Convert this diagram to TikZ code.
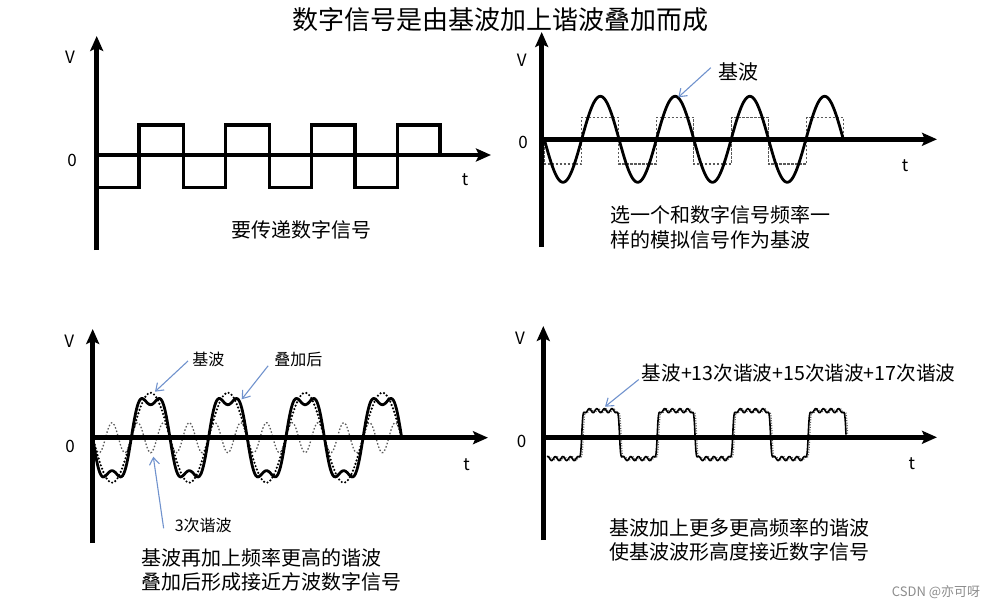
\documentclass[tikz,border=0pt]{standalone}
\usepackage{fontspec}
\setmainfont{Noto Sans CJK SC}
\usetikzlibrary{arrows.meta}
\definecolor{lblue}{RGB}{112,146,205}
\definecolor{wmgray}{RGB}{140,140,140}
\definecolor{dgray}{RGB}{90,90,90}
\begin{document}
\begin{tikzpicture}[x=1pt,y=-1pt,
  axisline/.style={line width=4.5pt,-{Stealth[length=15pt,width=13pt,inset=3pt]}},
  sqw/.style={line width=3.2pt,line join=miter},
  sinew/.style={line width=2.8pt},
  dsq/.style={line width=1.2pt,dgray,dash pattern=on 2.5pt off 1.5pt},
  fund/.style={line width=2.4pt,dash pattern=on 0pt off 3.6pt,line cap=round},
  harm/.style={line width=1.3pt,dgray,dash pattern=on 1.5pt off 2pt},
  sumw/.style={line width=2.8pt},
  rip/.style={line width=1.6pt},
  ripdot/.style={line width=1.2pt,dgray,dash pattern=on 1pt off 1.5pt},
  lbl/.style={inner sep=0pt,font=\fontsize{17}{20}\selectfont},
  captxt/.style={inner sep=0pt,font=\fontsize{20}{24}\selectfont},
  smalltxt/.style={inner sep=0pt,font=\fontsize{16}{19}\selectfont},
  larr/.style={draw=lblue,line width=1.1pt,-{Straight Barb[length=7pt,width=10pt]}}
]
\useasboundingbox (0,0) rectangle (1005,607);

% title
\node[inner sep=0pt,font=\fontsize{26}{30}\selectfont] (title) at (500,20) {数字信号是由基波加上谐波叠加而成};

% ---------------- top-left ----------------
\coordinate (tlB) at (96.7,250);
\coordinate (tlT) at (96.7,36);
\coordinate (tlO) at (96.7,155);
\coordinate (tlR) at (491,155);
\draw[axisline] (tlB) -- (tlT);
\draw[axisline] (tlO) -- (tlR);
\draw[sqw] (98,187.7) -- (139,187.7) -- (139,125) -- (183.3,125) -- (183.3,187.7)
  -- (225.7,187.7) -- (225.7,125) -- (269.3,125) -- (269.3,187.7)
  -- (311.7,187.7) -- (311.7,125) -- (355,125) -- (355,187.7)
  -- (397.7,187.7) -- (397.7,125) -- (440,125) -- (440,155);
\node[lbl] (tlV) at (70,57) {V};
\node[lbl] (tl0) at (72,160) {0};
\node[lbl] (tlt) at (465,180) {t};
\node[captxt] (tlc) at (301.7,230) {要传递数字信号};

% ---------------- top-right ----------------
\coordinate (trB) at (541.7,247);
\coordinate (trT) at (541.7,32);
\coordinate (trO) at (541.7,139.3);
\coordinate (trR) at (937,139.3);
\draw[dsq] (544.3,139.3) -- (544.3,164) -- (581.7,164) -- (581.7,117.3) -- (618.3,117.3)
  -- (618.3,164) -- (656.7,164) -- (656.7,117.3) -- (693.3,117.3) -- (693.3,164)
  -- (731.7,164) -- (731.7,117.3) -- (768.3,117.3) -- (768.3,164) -- (806.7,164)
  -- (806.7,117.3) -- (843.3,117.3) -- (843.3,139.3);
\draw[sinew] plot[domain=544.3:843.3,samples=241,smooth] (\x,{139.3+43*sin(((\x-544.3)/74.75)*360)});
\draw[axisline] (trB) -- (trT);
\draw[axisline] (trO) -- (trR);
\node[lbl] (trV) at (521.7,60.7) {V};
\node[lbl] (tr0) at (523,142.7) {0};
\node[lbl] (trt) at (905,166) {t};
\node[captxt] (trlab) at (738,71.7) {基波};
\coordinate (trpk) at (678.3,97.3);
\draw[larr] ([xshift=-7pt,yshift=4pt]trlab.west) -- (trpk);
\node[captxt,anchor=west] (trc1) at (610,215) {选一个和数字信号频率一};
\node[captxt,anchor=west] (trc2) at (610,240) {样的模拟信号作为基波};

% ---------------- bottom-left ----------------
\coordinate (blB) at (92.7,543);
\coordinate (blT) at (92.7,329);
\coordinate (blO) at (92.7,437.7);
\coordinate (blR) at (488,437.7);
\draw[harm] plot[domain=92.7:401.7,samples=300,smooth] (\x,{437.7+15*sin(((\x-92.7)/77.25)*1080)});
\draw[fund] plot[domain=92.7:401.7,samples=200,smooth] (\x,{437.7+45*sin(((\x-92.7)/77.25)*360)});
\draw[sumw] plot[domain=92.7:401.7,samples=300,smooth] (\x,{437.7+44*(sin(((\x-92.7)/77.25)*360)+0.25*sin(((\x-92.7)/77.25)*1080))});
\draw[axisline] (blB) -- (blT);
\draw[axisline] (blO) -- (blR);
\node[lbl] (blV) at (69.3,341.7) {V};
\node[lbl] (bl0) at (70,446) {0};
\node[lbl] (blt) at (466.7,465) {t};
\node[smalltxt] (blf) at (208.3,359.3) {基波};
\coordinate (blfp) at (155,391.7);
\draw[larr] ([xshift=-4pt,yshift=6pt]blf.south west) -- (blfp);
\node[smalltxt] (bls) at (298.3,359.3) {叠加后};
\coordinate (blsp) at (241.7,399.3);
\draw[larr] ([xshift=-6pt,yshift=1pt]bls.south west) -- (blsp);
\node[smalltxt] (blh) at (203.3,525) {3次谐波};
\coordinate (blhp) at (153.3,456.7);
\draw[larr] ([xshift=-11pt,yshift=-11pt]blh.north west) -- (blhp);
\node[captxt,anchor=west] (blc1) at (141.7,558.3) {基波再加上频率更高的谐波};
\node[captxt,anchor=west] (blc2) at (141.7,581.7) {叠加后形成接近方波数字信号};

% ---------------- bottom-right ----------------
\coordinate (brB) at (543.3,540);
\coordinate (brT) at (543.3,326);
\coordinate (brO) at (543.3,437.3);
\coordinate (brR) at (937,437.3);
\draw[ripdot] plot[domain=547:846,samples=700] ({\x+1.6},{434.6+(24+2*cos(((\x-544)/75.5)*3600))*tanh(max(-3.5,min(3.5,10*sin(((\x-544)/75.5)*360))))});
\draw[rip] plot[domain=547:846,samples=700] (\x,{434.6+(24+2*cos(((\x-544)/75.5)*3600))*tanh(max(-3.5,min(3.5,10*sin(((\x-544)/75.5)*360))))});
\draw[axisline] (brB) -- (brT);
\draw[axisline] (brO) -- (brR);
\node[lbl] (brV) at (520,338.3) {V};
\node[lbl] (br0) at (521.7,441.7) {0};
\node[lbl] (brt) at (911.7,463.3) {t};
\node[inner sep=0pt,font=\fontsize{19.6}{23}\selectfont,anchor=west] (brlab) at (641.7,373.3) {基波+13次谐波+15次谐波+17次谐波};
\coordinate (brp) at (605,406.7);
\draw[larr] ([xshift=-3pt,yshift=3pt]brlab.south west) -- (brp);
\node[captxt,anchor=west] (brc1) at (609.3,528.3) {基波加上更多更高频率的谐波};
\node[captxt,anchor=west] (brc2) at (609.3,551.7) {使基波波形高度接近数字信号};

% watermark
\node[inner sep=0pt,anchor=west,text=wmgray,font=\fontsize{13}{15}\selectfont] (wm) at (891.7,591.7) {CSDN @亦可呀};
\end{tikzpicture}
\end{document}
